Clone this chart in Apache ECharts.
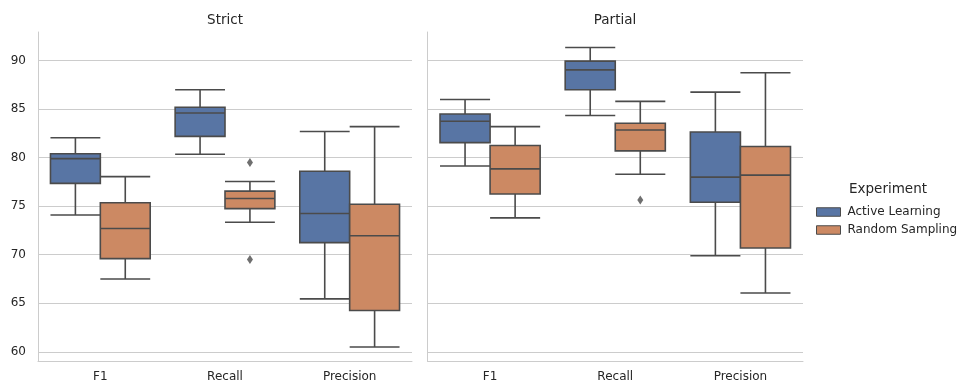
<!DOCTYPE html>
<html>
<head>
<meta charset="utf-8">
<script src="https://cdn.jsdelivr.net/npm/echarts@6/dist/echarts.min.js"></script>
<style>html,body{margin:0;padding:0;background:#fff}#c{width:967px;height:385px}</style>
</head>
<body>
<div id="c"></div>
<script>
// ---- data ----
const categories = ['F1', 'Recall', 'Precision'];
const panels = ['Strict', 'Partial'];
const hues = ['Active Learning', 'Random Sampling'];
// [min, Q1, median, Q3, max] per category
const strictActive  = [[74.1, 77.35, 79.9, 80.4, 82.05], [80.35, 82.2, 84.6, 85.2, 87.0], [65.45, 71.25, 74.25, 78.6, 82.7]];
const strictRandom  = [[67.5, 69.6, 72.7, 75.35, 78.05], [73.35, 74.75, 75.8, 76.55, 77.55], [60.5, 64.25, 71.95, 75.2, 83.2]];
const partialActive = [[79.15, 81.55, 83.75, 84.5, 86.0], [84.35, 87.0, 89.05, 89.95, 91.35], [69.9, 75.4, 78.0, 82.65, 86.75]];
const partialRandom = [[73.8, 76.25, 78.85, 81.25, 83.2], [78.3, 80.7, 82.85, 83.55, 85.8], [66.05, 70.7, 78.2, 81.15, 88.75]];
// outliers: [category index, value]
const strictActiveOutliers = [];
const strictRandomOutliers = [[1, 79.5], [1, 69.5]];
const partialActiveOutliers = [];
const partialRandomOutliers = [[1, 75.65]];

// ---- styling ----
const FONT = 'DejaVu Sans';
const TXT = '#262626';
const GRIDC = '#cccccc';
const LINEC = '#4b4b4b';
const colors = ['#5875a4', '#cc8963'];
const hueOffset = [-0.2, 0.2];

const boxSets = [[strictActive, strictRandom], [partialActive, partialRandom]];
const outSets = [[strictActiveOutliers, strictRandomOutliers], [partialActiveOutliers, partialRandomOutliers]];

const grids = [
  {left: 38, top: 32, width: 374, height: 329},
  {left: 427.5, top: 32, width: 375.5, height: 329}
];
const yMin = 59.05, yMax = 92.95;

const xAxis = [], yAxis = [], series = [];
panels.forEach((p, g) => {
  xAxis.push({
    type: 'category', gridIndex: g, data: categories, boundaryGap: true,
    axisLine: {show: true, onZero: false, lineStyle: {color: GRIDC, width: 1}},
    axisTick: {show: false},
    axisLabel: {color: TXT, fontFamily: FONT, fontSize: 12, margin: 10},
    splitLine: {show: false}
  });
  hues.forEach(() => {
    xAxis.push({type: 'value', gridIndex: g, min: -0.5, max: 2.5, show: false,
      axisLine: {show: false, onZero: false}, splitLine: {show: false}});
  });
  yAxis.push({
    type: 'value', gridIndex: g, min: yMin, max: yMax, splitNumber: 5,
    axisLine: {show: true, onZero: false, lineStyle: {color: GRIDC, width: 1}},
    axisTick: {show: false},
    axisLabel: {show: g === 0, color: TXT, fontFamily: FONT, fontSize: 12, margin: 12, showMinLabel: false, showMaxLabel: false},
    splitLine: {show: true, showMinLine: false, showMaxLine: false, lineStyle: {color: GRIDC, width: 1}}
  });
});

panels.forEach((p, g) => {
  hues.forEach((h, k) => {
    const xi = g * 3 + 1 + k;
    series.push({
      type: 'boxplot', name: h, xAxisIndex: xi, yAxisIndex: g,
      boxWidth: ['40%', '40%'],
      itemStyle: {color: colors[k], borderColor: LINEC, borderWidth: 1.6},
      emphasis: {disabled: true},
      data: boxSets[g][k].map((v, i) => [i + hueOffset[k]].concat(v))
    });
    if (outSets[g][k].length) {
      series.push({
        type: 'scatter', name: h, xAxisIndex: xi, yAxisIndex: g,
        symbol: 'diamond', symbolSize: [6, 9],
        itemStyle: {color: LINEC},
        emphasis: {disabled: true},
        data: outSets[g][k].map(o => [o[0] + hueOffset[k], o[1]])
      });
    }
  });
});

const chart = echarts.init(document.getElementById('c'), null, {renderer: 'canvas'});
chart.setOption({
  animation: false,
  backgroundColor: '#ffffff',
  grid: grids,
  xAxis: xAxis,
  yAxis: yAxis,
  series: series,
  legend: {
    orient: 'vertical', left: 811, top: 201,
    itemWidth: 24, itemHeight: 8.5, itemGap: 6, icon: 'rect',
    selectedMode: false,
    textStyle: {color: TXT, fontFamily: FONT, fontSize: 12, padding: [0, 0, 0, 2]},
    data: hues.map((h, k) => ({name: h, itemStyle: {color: colors[k], borderColor: LINEC, borderWidth: 1}}))
  },
  graphic: [
    {type: 'text', x: 225, y: 20.5, style: {text: panels[0], textAlign: 'center', textVerticalAlign: 'middle', fill: TXT, font: '13.5px "DejaVu Sans"'}},
    {type: 'text', x: 615, y: 20.5, style: {text: panels[1], textAlign: 'center', textVerticalAlign: 'middle', fill: TXT, font: '13.5px "DejaVu Sans"'}},
    {type: 'text', x: 849, y: 189.5, style: {text: 'Experiment', textAlign: 'left', textVerticalAlign: 'middle', fill: TXT, font: '13.5px "DejaVu Sans"'}}
  ]
});
</script>
</body>
</html>
